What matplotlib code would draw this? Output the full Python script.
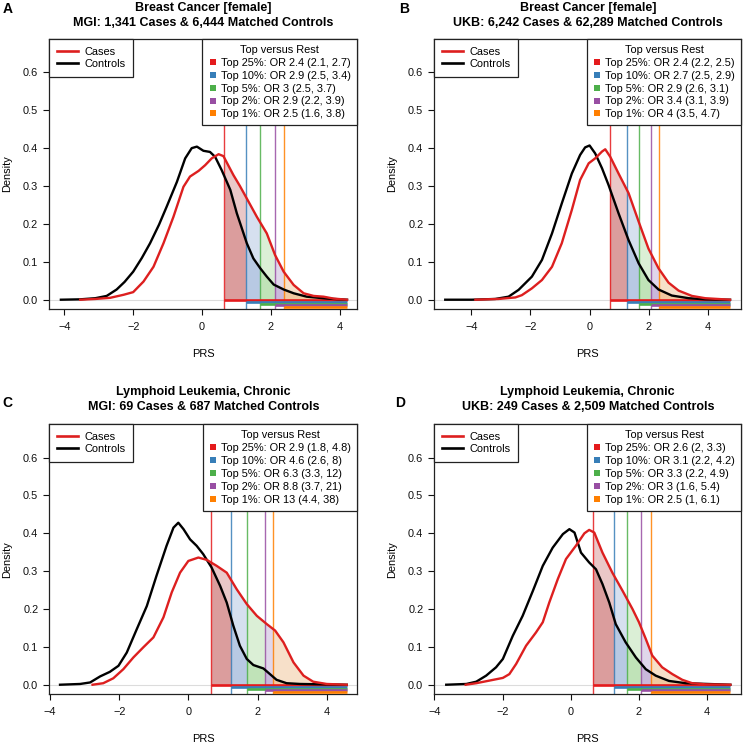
import matplotlib
matplotlib.use('Agg')
import matplotlib.pyplot as plt
import numpy as np
from matplotlib.lines import Line2D

plt.rcParams['font.family'] = ['Liberation Sans', 'DejaVu Sans']

# ---------------- data ----------------
# Panel A: Breast cancer, MGI
a_ctrl_x = [-4.10, -3.54, -3.10, -2.77, -2.48, -2.25, -2.00, -1.75, -1.51, -1.25, -1.03, -0.73, -0.49, -0.30, -0.15,
            0.04, 0.23, 0.38, 0.57, 0.82, 1.01, 1.15, 1.30, 1.49, 1.69, 1.88, 2.08, 2.37, 2.66, 3.04, 3.63, 4.21]
a_ctrl_y = [0.000, 0.001, 0.004, 0.010, 0.027, 0.047, 0.074, 0.110, 0.149, 0.198, 0.245, 0.311, 0.373, 0.400, 0.404,
            0.393, 0.390, 0.377, 0.342, 0.290, 0.228, 0.190, 0.149, 0.109, 0.083, 0.061, 0.040, 0.027, 0.017, 0.008, 0.003, 0.000]
a_case_x = [-3.54, -3.10, -2.67, -2.28, -2.00, -1.70, -1.41, -1.12, -0.83, -0.54, -0.35, -0.10, 0.09, 0.28, 0.48,
            0.62, 0.91, 1.10, 1.30, 1.59, 1.88, 2.12, 2.37, 2.66, 2.95, 3.24, 3.53, 3.82, 4.21]
a_case_y = [0.000, 0.002, 0.005, 0.013, 0.020, 0.048, 0.087, 0.149, 0.219, 0.298, 0.325, 0.340, 0.355, 0.373, 0.384,
            0.379, 0.329, 0.300, 0.267, 0.219, 0.175, 0.118, 0.074, 0.039, 0.017, 0.010, 0.008, 0.003, 0.000]
a_thr = [0.65, 1.27, 1.69, 2.11, 2.38]
a_labels = ["Top 25%: OR 2.4 (2.1, 2.7)", "Top 10%: OR 2.9 (2.5, 3.4)", "Top 5%: OR 3 (2.5, 3.7)",
            "Top 2%: OR 2.9 (2.2, 3.9)", "Top 1%: OR 2.5 (1.6, 3.8)"]
a_title = ["Breast Cancer [female]", "MGI: 1,341 Cases & 6,444 Matched Controls"]
a_xlim = (-4.445, 4.50)

# Panel B: Breast cancer, UKB
b_ctrl_x = [-4.88, -3.98, -3.19, -2.74, -2.40, -1.95, -1.61, -1.27, -0.94, -0.60, -0.32, -0.15, 0.00, 0.19, 0.42,
            0.64, 0.98, 1.32, 1.66, 1.99, 2.33, 2.78, 3.35, 3.91, 4.75]
b_ctrl_y = [0.000, 0.000, 0.002, 0.008, 0.026, 0.061, 0.105, 0.175, 0.254, 0.333, 0.382, 0.402, 0.407, 0.386, 0.347,
            0.303, 0.228, 0.157, 0.096, 0.052, 0.027, 0.011, 0.004, 0.001, 0.000]
b_case_x = [-3.86, -3.08, -2.51, -2.29, -1.95, -1.61, -1.27, -0.94, -0.60, -0.32, -0.03, 0.19, 0.42, 0.53, 0.70,
            0.98, 1.32, 1.66, 1.99, 2.33, 2.67, 3.01, 3.46, 3.91, 4.75]
b_case_y = [0.000, 0.002, 0.006, 0.012, 0.030, 0.052, 0.087, 0.149, 0.237, 0.316, 0.360, 0.373, 0.391, 0.397, 0.377,
            0.333, 0.281, 0.206, 0.135, 0.083, 0.045, 0.024, 0.010, 0.004, 0.000]
b_thr = [0.68, 1.28, 1.66, 2.06, 2.34]
b_labels = ["Top 25%: OR 2.4 (2.2, 2.5)", "Top 10%: OR 2.7 (2.5, 2.9)", "Top 5%: OR 2.9 (2.6, 3.1)",
            "Top 2%: OR 3.4 (3.1, 3.9)", "Top 1%: OR 4 (3.5, 4.7)"]
b_title = ["Breast Cancer [female]", "UKB: 6,242 Cases & 62,289 Matched Controls"]
b_xlim = (-5.25, 5.13)

# Panel C: CLL, MGI
c_ctrl_x = [-3.71, -3.13, -2.84, -2.55, -2.27, -2.02, -1.78, -1.49, -1.20, -0.92, -0.63, -0.43, -0.29, -0.14, 0.05,
            0.24, 0.43, 0.67, 0.92, 1.11, 1.30, 1.49, 1.69, 1.88, 2.17, 2.36, 2.55, 2.84, 3.23, 4.58]
c_ctrl_y = [0.000, 0.002, 0.006, 0.022, 0.034, 0.050, 0.085, 0.147, 0.208, 0.288, 0.367, 0.415, 0.428, 0.411, 0.384,
            0.367, 0.345, 0.310, 0.261, 0.217, 0.156, 0.103, 0.068, 0.052, 0.043, 0.028, 0.013, 0.004, 0.002, 0.000]
c_case_x = [-2.77, -2.46, -2.17, -1.88, -1.59, -1.30, -1.01, -0.72, -0.48, -0.24, 0.00, 0.29, 0.53, 0.82, 1.11,
            1.40, 1.69, 1.98, 2.27, 2.51, 2.75, 3.04, 3.33, 3.61, 4.00, 4.58]
c_case_y = [0.000, 0.004, 0.017, 0.041, 0.072, 0.099, 0.125, 0.178, 0.244, 0.296, 0.327, 0.336, 0.330, 0.314, 0.296,
            0.252, 0.213, 0.182, 0.160, 0.143, 0.112, 0.059, 0.024, 0.008, 0.002, 0.000]
c_thr = [0.66, 1.24, 1.70, 2.23, 2.46]
c_labels = ["Top 25%: OR 2.9 (1.8, 4.8)", "Top 10%: OR 4.6 (2.6, 8)", "Top 5%: OR 6.3 (3.3, 12)",
            "Top 2%: OR 8.8 (3.7, 21)", "Top 1%: OR 13 (4.4, 38)"]
c_title = ["Lymphoid Leukemia, Chronic", "MGI: 69 Cases & 687 Matched Controls"]
c_xlim = (-4.02, 4.885)

# Panel D: CLL, UKB
d_ctrl_x = [-3.65, -3.06, -2.77, -2.48, -2.19, -1.99, -1.70, -1.41, -1.11, -0.82, -0.53, -0.23, -0.04, 0.11, 0.30,
            0.54, 0.74, 0.93, 1.13, 1.32, 1.61, 1.91, 2.20, 2.49, 2.88, 3.37, 4.68]
d_ctrl_y = [0.000, 0.002, 0.008, 0.024, 0.046, 0.068, 0.129, 0.182, 0.248, 0.314, 0.362, 0.398, 0.411, 0.402, 0.349,
            0.323, 0.305, 0.266, 0.217, 0.160, 0.112, 0.072, 0.041, 0.024, 0.010, 0.004, 0.000]
d_case_x = [-3.08, -2.77, -2.38, -1.99, -1.80, -1.60, -1.31, -1.02, -0.82, -0.63, -0.38, -0.14, 0.15, 0.40, 0.54,
            0.69, 0.93, 1.22, 1.52, 1.81, 2.00, 2.20, 2.39, 2.68, 2.98, 3.27, 3.56, 3.95, 4.68]
d_case_y = [0.000, 0.004, 0.011, 0.018, 0.028, 0.055, 0.103, 0.138, 0.165, 0.217, 0.279, 0.332, 0.367, 0.400, 0.409,
            0.402, 0.349, 0.296, 0.248, 0.200, 0.165, 0.121, 0.077, 0.046, 0.028, 0.013, 0.004, 0.001, 0.000]
d_thr = [0.65, 1.28, 1.64, 2.07, 2.36]
d_labels = ["Top 25%: OR 2.6 (2, 3.3)", "Top 10%: OR 3.1 (2.2, 4.2)", "Top 5%: OR 3.3 (2.2, 4.9)",
            "Top 2%: OR 3 (1.6, 5.4)", "Top 1%: OR 2.5 (1, 6.1)"]
d_title = ["Lymphoid Leukemia, Chronic", "UKB: 249 Cases & 2,509 Matched Controls"]
d_xlim = (-3.97, 5.0)

panel_letters = ["A", "B", "C", "D"]
line_colors = ['#E41A1C', '#377EB8', '#4DAF4A', '#984EA3', '#FF7F00']
fill_colors = ['#AF2323', '#5F87C3', '#73C35F', '#875FAF', '#E3872A']
case_color = '#DD1F1F'
ctrl_color = '#000000'

# ---------------- figure ----------------
W, H = 745, 744
fig = plt.figure(figsize=(W / 100, H / 100), dpi=100)

# axes boxes in pixels: left, right, top, bottom
boxes = [(49, 357, 39, 309), (434.3, 741.3, 39, 309),
         (49.3, 357.3, 424.3, 694), (434.3, 741.3, 424.3, 694)]
title_base = [(11, 26), (11, 26), (395.3, 410.3), (395.3, 410.3)]
letter_pos = [(2.7, 13), (398.7, 13), (2.3, 407), (395.3, 407)]

panels = [
    (a_ctrl_x, a_ctrl_y, a_case_x, a_case_y, a_thr, a_labels, a_title, a_xlim),
    (b_ctrl_x, b_ctrl_y, b_case_x, b_case_y, b_thr, b_labels, b_title, b_xlim),
    (c_ctrl_x, c_ctrl_y, c_case_x, c_case_y, c_thr, c_labels, c_title, c_xlim),
    (d_ctrl_x, d_ctrl_y, d_case_x, d_case_y, d_thr, d_labels, d_title, d_xlim),
]

FS = 7.9


def seg(x, y, lo, hi):
    x = np.asarray(x); y = np.asarray(y)
    inner = (x > lo) & (x < hi)
    xs = np.concatenate([[lo], x[inner], [hi]])
    ys = np.concatenate([[np.interp(lo, x, y)], y[inner], [np.interp(hi, x, y)]])
    return xs, ys


for k, (cx, cy, kx, ky, thr, labels, title, xlim) in enumerate(panels):
    l, r, t, b = boxes[k]
    ax = fig.add_axes([l / W, 1 - b / H, (r - l) / W, (b - t) / H])
    ax.set_xlim(*xlim)
    ax.set_ylim(-0.0245, 0.688)

    x_end = max(max(cx), max(kx))
    ax.axhline(0, color='#dcdcdc', lw=0.8, zorder=0.5)

    # shaded areas
    for i in range(5):
        lo = thr[i]
        hi = thr[i + 1] if i < 4 else x_end
        xs, ys = seg(kx, ky, lo, hi)
        ax.fill_between(xs, 0, ys, color=fill_colors[i], alpha=0.25, lw=0, zorder=1)
        xs, ys = seg(cx, cy, lo, hi)
        ax.fill_between(xs, 0, ys, color=fill_colors[i], alpha=0.25, lw=0, zorder=1)

    for i in range(5):
        ax.axvline(thr[i], color=line_colors[i], lw=1.0, alpha=0.85, zorder=2)
    for i in range(5):
        ax.plot([thr[i], x_end], [-0.005 * i, -0.005 * i], color=line_colors[i], lw=1.9,
                solid_capstyle='butt', zorder=3)

    ax.plot(cx, cy, color=ctrl_color, lw=1.7, zorder=4, solid_joinstyle='round')
    ax.plot(kx, ky, color=case_color, lw=1.7, zorder=5, solid_joinstyle='round')

    ax.set_xticks([-4, -2, 0, 2, 4])
    ax.set_yticks([0.0, 0.1, 0.2, 0.3, 0.4, 0.5, 0.6])
    ax.set_yticklabels(['0.0', '0.1', '0.2', '0.3', '0.4', '0.5', '0.6'])
    ax.tick_params(direction='out', length=4.3, width=0.8, labelsize=FS, colors='#111111')
    ax.tick_params(axis='x', pad=5.0)
    ax.tick_params(axis='y', pad=3.6)
    for s in ax.spines.values():
        s.set_linewidth(0.9)
        s.set_color('#222222')

    # legends
    h1 = [Line2D([], [], color=case_color, lw=1.9), Line2D([], [], color=ctrl_color, lw=1.9)]
    leg1 = ax.legend(h1, ['Cases', 'Controls'], loc='upper left', bbox_to_anchor=(0, 1),
                     borderaxespad=0, fontsize=FS, frameon=True, fancybox=False, edgecolor='#222222',
                     framealpha=1, handlelength=1.9, handletextpad=0.6, labelspacing=0.2,
                     borderpad=0.7)
    leg1.get_frame().set_linewidth(0.9)
    leg1.set_zorder(10)
    ax.add_artist(leg1)

    h2 = [Line2D([], [], color=c, marker='s', ls='none', markersize=3.8, markeredgewidth=0) for c in line_colors]
    leg2 = ax.legend(h2, labels, loc='upper right', bbox_to_anchor=(1, 1), borderaxespad=0,
                     fontsize=FS, title='Top versus Rest', title_fontsize=FS, frameon=True,
                     fancybox=False, edgecolor='#222222', framealpha=1, handlelength=0.8,
                     handletextpad=0.35, labelspacing=0.26, borderpad=0.55)
    leg2.get_frame().set_linewidth(0.9)
    leg2.set_zorder(10)

    # titles, labels
    cxp = (l + r) / 2
    fig.text(cxp / W, 1 - title_base[k][0] / H, title[0], ha='center', va='baseline',
             fontsize=9, fontweight='bold')
    fig.text(cxp / W, 1 - title_base[k][1] / H, title[1], ha='center', va='baseline',
             fontsize=9, fontweight='bold')
    fig.text(letter_pos[k][0] / W, 1 - letter_pos[k][1] / H, panel_letters[k], ha='left',
             va='baseline', fontsize=10, fontweight='bold')
    fig.text((l - 42.3) / W, 1 - ((t + b) / 2) / H, 'Density', rotation=90, ha='center',
             va='center', fontsize=FS)
    fig.text(cxp / W, 1 - (b + 47.7) / H, 'PRS', ha='center', va='baseline', fontsize=FS)

fig.savefig('out.png', dpi=100)
